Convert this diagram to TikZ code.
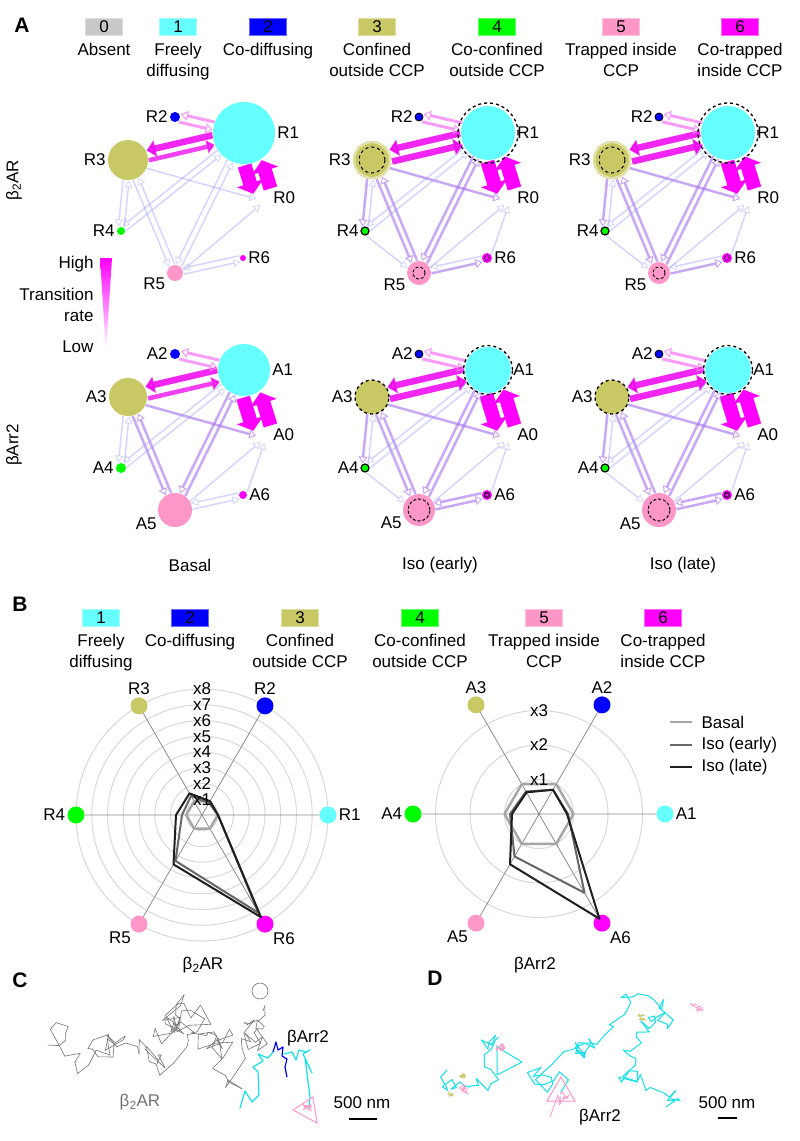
\documentclass[tikz,border=0pt]{standalone}
\usepackage{fontspec}
\setmainfont{Liberation Sans}
\usetikzlibrary{calc,arrows.meta}

\definecolor{stabs}{RGB}{200,200,200}
\definecolor{stfree}{RGB}{102,255,255}
\definecolor{stcod}{RGB}{0,0,255}
\definecolor{stconf}{RGB}{200,200,100}
\definecolor{stcoc}{RGB}{0,255,0}
\definecolor{sttrap}{RGB}{255,150,200}
\definecolor{stcot}{RGB}{255,0,255}
\definecolor{trmag}{RGB}{240,0,240}
\definecolor{trpur}{RGB}{165,110,240}
\definecolor{trblu}{RGB}{150,150,255}
\definecolor{trjcyan}{RGB}{20,225,235}

\pgfdeclarelayer{back}
\pgfdeclarelayer{edges}
\pgfsetlayers{back,edges,main}

\newcommand{\statenet}[9]{%
  \begin{scope}[shift={#3}]
    \node[st=#4, fill=stfree, label={[lab]right:#21}] (#11) at (244,133) {};
    \node[st=#5, fill=stcod, label={[lab]left:#22}] (#12) at (175,117) {};
    \node[st=#6, fill=stconf, label={[lab]left:#23}] (#13) at (128,160) {};
    \node[st=#7, fill=stcoc, label={[lab]left:#24}] (#14) at (121,231) {};
    \node[st=#8, fill=sttrap, label={[lab]200:#25}] (#15) at (175,273) {};
    \node[st=#9, fill=stcot, label={[lab]right:#26}] (#16) at (243,258) {};
    \node[st=7, label={[lab]right:#20}] (#10) at (264,198) {};
  \end{scope}}

\newcommand{\trarrow}[5]{%
  \path (#1#2) -- (#1#3) coordinate[pos=0] (ts) coordinate[pos=1] (te);
  \draw[#4] ($(ts)!#5pt!-90:(te)$) -- ($(te)!#5pt!90:(ts)$);}

\newcommand{\walkto}[4]{%
  \xdef\trjsx{\trjx}\xdef\trjsy{\trjy}%
  \foreach \i in {1,...,#1}{%
    \pgfmathsetmacro\trjtx{\trjsx+(#2-\trjsx)*\i/#1}%
    \pgfmathsetmacro\trjty{\trjsy+(#3-\trjsy)*\i/#1}%
    \pgfmathsetmacro\trjnx{\trjx+rand*#4+0.12*(\trjtx-\trjx)}%
    \pgfmathsetmacro\trjny{\trjy+rand*#4+0.12*(\trjty-\trjy)}%
    \draw (\trjx,\trjy) -- (\trjnx,\trjny);
    \xdef\trjx{\trjnx}\xdef\trjy{\trjny}%
  }}

\newcommand{\trjblob}[3]{%
  \xdef\trjx{#1}\xdef\trjy{#2}%
  \walkto{22}{#1}{#2}{#3}}

\def\edgesbasal{1/3/trA/5, 3/1/trB/5, 1/2/trC/4, 2/1/trC/4, 1/0/trR/9, 0/1/trR/9,
  3/4/trE/3, 4/3/trE/3, 3/5/trE/3, 5/3/trE/3, 1/5/trE/3, 5/1/trE/3, 3/0/trE/3,
  5/6/trE/3, 6/5/trE/3, 5/0/trE/3, 1/4/trE/3, 4/1/trE/3}
\def\edgesiso{1/3/trA/6, 3/1/trA/6, 1/2/trC/4, 2/1/trC/4, 1/0/trR/9, 0/1/trR/9,
  3/4/trD/3, 4/3/trE/3, 3/5/trD/3, 5/3/trD/3, 1/5/trD/3, 5/1/trD/3, 3/0/trD/3,
  5/6/trD/3, 6/5/trE/3, 5/0/trE/3, 1/4/trE/3, 4/1/trE/3, 6/0/trE/3, 4/5/trE/3}
\def\edgesarr{1/3/trA/6, 3/1/trB/6, 1/2/trC/4, 2/1/trC/4, 1/0/trR/9, 0/1/trR/9,
  3/4/trE/3, 4/3/trE/3, 3/5/trD/3, 5/3/trD/3, 1/5/trD/3, 5/1/trD/3, 3/0/trD/3,
  5/6/trE/3, 6/5/trE/3, 5/0/trE/3, 1/4/trE/3, 4/1/trE/3, 6/0/trE/3}
\def\edgesarriso{1/3/trA/6, 3/1/trA/6, 1/2/trC/4, 2/1/trC/4, 1/0/trR/9, 0/1/trR/9,
  3/4/trD/3, 4/3/trE/3, 3/5/trD/3, 5/3/trD/3, 1/5/trD/3, 5/1/trD/3, 3/0/trD/3,
  5/6/trD/3, 6/5/trD/3, 5/0/trE/3, 1/4/trE/3, 4/1/trE/3, 6/0/trE/3, 4/5/trE/3}

\begin{document}
\begin{tikzpicture}[x=1pt, y=-1pt, font=\fontsize{17}{21}\selectfont,
  st/.style={circle, inner sep=0pt, minimum size={2*#1}},
  lab/.style={inner sep=1pt},
  every label/.style={label distance=1pt},
  key/.style={minimum width=37pt, minimum height=17pt, inner sep=0pt},
  letter/.style={font=\fontsize{21}{24}\selectfont\bfseries},
  trA/.style={draw=trmag, opacity=.85, line width=6.5pt, -{Triangle[length=9pt, width=16pt]}},
  trB/.style={draw=trmag, opacity=.75, line width=4.5pt, -{Triangle[length=8pt, width=13pt]}},
  trC/.style={draw=trmag!45, opacity=.85, line width=3pt, -{Triangle[open, length=7pt, width=10pt, line width=1pt]}},
  trD/.style={draw=trpur, opacity=.6, line width=2.5pt, -{Triangle[open, length=7pt, width=9pt, line width=1pt]}},
  trE/.style={draw=trblu, opacity=.4, line width=1.5pt, -{Triangle[open, length=7pt, width=8pt, line width=.8pt]}},
  trR/.style={draw=stcot, line width=14pt, -{Triangle[length=11pt, width=27pt]}},
  dot/.style={circle, inner sep=0pt, minimum size=17pt},
  ring/.style={draw=black!15, line width=1pt},
  axis/.style={draw=black!45, line width=.8pt},
  basal/.style={draw=black!35, line width=2.5pt, line join=round},
  early/.style={draw=black!60, line width=2pt, line join=round},
  late/.style={draw=black!88, line width=2pt, line join=round}]

  \begin{pgfonlayer}{back}
    \fill[white] (0,0) rectangle (800,1141);
  \end{pgfonlayer}
  \useasboundingbox (0,0) rectangle (800,1141);

  \node[letter] (pa) at (22,25) {A};
  \node[letter] (pb) at (20,604) {B};
  \node[letter] (pc) at (20,980) {C};
  \node[letter] (pd) at (435,978) {D};

  \foreach \x/\n/\c in {104/0/stabs, 178/1/stfree, 268/2/stcod, 377/3/stconf,
      497/4/stcoc, 621/5/sttrap, 740/6/stcot}
    \node[key, fill=\c, draw=\c!60!white] (ka\n) at (\x,26.5) {\n};
  \foreach \x/\kt in {104/Absent, 178/Freely\\diffusing, 268/Co-diffusing,
      377/Confined\\outside CCP, 497/Co-confined\\outside CCP,
      621/Trapped inside\\CCP, 740/Co-trapped\\inside CCP}
    \node[align=center, anchor=north, inner sep=0pt] (kl\x) at (\x,43) {\kt};

  \foreach \x/\n/\c in {101/1/stfree, 190/2/stcod, 300/3/stconf, 420/4/stcoc,
      544/5/sttrap, 663/6/stcot}
    \node[key, fill=\c, draw=\c!60!white] (kb\n) at (\x,617.5) {\n};
  \foreach \x/\kt in {101/Freely\\diffusing, 190/Co-diffusing,
      300/Confined\\outside CCP, 420/Co-confined\\outside CCP,
      544/Trapped inside\\CCP, 663/Co-trapped\\inside CCP}
    \node[align=center, anchor=north, inner sep=0pt] (km\x) at (\x,634) {\kt};

  \node[rotate=90] (rowr) at (14,180) {β\textsubscript{2}AR};
  \node[rotate=90] (rowa) at (14,445) {βArr2};

  \shade[top color=stcot, bottom color=white] (100,258) -- (112,258) -- (106,352) -- cycle;
  \node[anchor=east] (high) at (97,264) {High};
  \node[anchor=east, align=right] (trate) at (97,305) {Transition\\rate};
  \node[anchor=east] (low) at (97,347) {Low};

  \statenet{a}{R}{(0,0)}{31}{5}{20}{4}{8}{3}
  \statenet{b}{R}{(244,0)}{27}{4}{19}{4}{12}{5}
  \statenet{c}{R}{(484,0)}{27}{4}{19}{4}{11}{5}
  \statenet{d}{A}{(0,237)}{26}{5}{19}{5}{17}{4}
  \statenet{e}{A}{(244,237)}{23}{4}{17}{4}{16}{5}
  \statenet{f}{A}{(484,237)}{23}{4}{17}{4}{17}{5}

  \foreach \pn in {b,c} {
    \draw[dashed, line width=1.3pt] (\pn1) circle (30pt);
    \draw[line width=.8pt] (\pn2) circle (4pt);
    \draw[stconf!55, line width=2.5pt] (\pn3) circle (18pt);
    \draw[dashed, line width=1pt] (\pn3) circle (13pt);
    \draw[line width=1.2pt] (\pn4) circle (4pt);
    \draw[densely dashed, line width=.9pt] (\pn5) circle (6pt);
    \draw[densely dotted, line width=.9pt] (\pn6) circle (2.5pt);
  }
  \foreach \pn in {e,f} {
    \draw[dashed, line width=1.3pt] (\pn1) circle (24.5pt);
    \draw[line width=.8pt] (\pn2) circle (4pt);
    \draw[dashed, line width=1.3pt] (\pn3) circle (17pt);
    \draw[line width=1.2pt] (\pn4) circle (4pt);
    \draw[densely dashed, line width=1pt] (\pn5) circle (11pt);
    \draw[line width=1.1pt] (\pn6) circle (2.5pt);
  }

  \begin{pgfonlayer}{edges}
    \foreach \ea/\eb/\es/\eg in \edgesbasal {\trarrow{a}{\ea}{\eb}{\es}{\eg}}
    \foreach \ea/\eb/\es/\eg in \edgesiso {\trarrow{b}{\ea}{\eb}{\es}{\eg}}
    \foreach \ea/\eb/\es/\eg in \edgesiso {\trarrow{c}{\ea}{\eb}{\es}{\eg}}
    \foreach \ea/\eb/\es/\eg in \edgesarr {\trarrow{d}{\ea}{\eb}{\es}{\eg}}
    \foreach \ea/\eb/\es/\eg in \edgesarriso {\trarrow{e}{\ea}{\eb}{\es}{\eg}}
    \foreach \ea/\eb/\es/\eg in \edgesarriso {\trarrow{f}{\ea}{\eb}{\es}{\eg}}
  \end{pgfonlayer}

  \node (cola) at (190,565) {Basal};
  \node (colb) at (440,565) {Iso (early)};
  \node (colc) at (683,565) {Iso (late)};

  % radar of the receptor
  \begin{scope}[shift={(202,815)}, yscale=-1]
    \foreach \k in {1,...,8} \draw[ring] (0,0) circle[radius={15.75*\k}];
    \foreach \a/\n/\c/\p in {0/1/stfree/0, 60/2/stcod/90, 120/3/stconf/90,
        180/4/stcoc/180, 240/5/sttrap/225, 300/6/stcot/315}
      \node[dot, fill=\c, label={[lab]\p:R\n}] (q\n) at (\a:126) {};
    \draw[axis] (q1) -- (q4) (q2) -- (q5) (q3) -- (q6);
    \draw[basal] (0:15.75) \foreach \a in {60,120,...,300} {-- (\a:15.75)} -- cycle;
    \draw[early] (0:16) -- (60:14) -- (120:22) -- (180:20) -- (240:53) -- (300:113) -- cycle;
    \draw[late] (0:16) -- (60:16) -- (120:25) -- (180:26) -- (240:57) -- (300:118) -- cycle;
    \foreach \k in {1,...,8} \node[inner sep=0pt] (tq\k) at (90:{15.75*\k}) {x\k};
  \end{scope}
  \node (namq) at (203,965) {β\textsubscript{2}AR};

  % radar of the arrestin
  \begin{scope}[shift={(539,814)}, yscale=-1]
    \foreach \k in {1,2,3} \draw[ring] (0,0) circle[radius={34.5*\k}];
    \foreach \a/\n/\c/\p in {0/1/stfree/0, 60/2/stcod/90, 120/3/stconf/90,
        180/4/stcoc/180, 240/5/sttrap/225, 300/6/stcot/315}
      \node[dot, fill=\c, label={[lab]\p:A\n}] (s\n) at (\a:126) {};
    \draw[axis] (s1) -- (s4) (s2) -- (s5) (s3) -- (s6);
    \draw[basal] (0:34.5) \foreach \a in {60,120,...,300} {-- (\a:34.5)} -- cycle;
    \draw[early] (0:29) -- (60:28) -- (120:26) -- (180:29) -- (240:49) -- (300:91) -- cycle;
    \draw[late] (0:28) -- (60:28) -- (120:25) -- (180:27) -- (240:58) -- (300:121) -- cycle;
    \foreach \k in {1,2,3} \node[inner sep=0pt] (ts\k) at (90:{34.5*\k}) {x\k};
  \end{scope}
  \node (nams) at (535,965) {βArr2};

  \draw[basal] (670,722) -- (692,722);
  \draw[early] (670,745) -- (692,745);
  \draw[late] (670,767) -- (692,767);
  \node[anchor=west] (lgb) at (698,722) {Basal};
  \node[anchor=west] (lge) at (698,745) {Iso (early)};
  \node[anchor=west] (lgl) at (698,767) {Iso (late)};

  % single trajectories
  \begin{scope}[black!55, line width=.6pt, line cap=round, line join=round]
    \pgfmathsetseed{11}
    \xdef\trjx{48}\xdef\trjy{1045}
    \walkto{35}{110}{1035}{17}
    \walkto{35}{175}{1035}{17}
    \walkto{35}{235}{1040}{17}
    \walkto{20}{280}{1005}{14}
    \walkto{10}{262}{992}{8}
    \draw (260,991) circle (8pt);
  \end{scope}
  \begin{scope}[trjcyan, line width=1.2pt, line cap=round, line join=round]
    \draw (240,1108) -- (245,1091) -- (252,1102) -- (259,1095) -- (258,1072) -- (253,1067)
      -- (263,1061) -- (258,1054) -- (268,1058) -- (273,1052);
    \draw (284,1054) -- (292,1052) -- (296,1060) -- (299,1050) -- (306,1052) -- (310,1050)
      -- (303,1054) -- (312,1073) -- (305,1058) -- (310,1097) -- (309,1108);
  \end{scope}
  \draw[stcod, line width=1.2pt, line join=round] (273,1052) -- (276,1042) -- (278,1050)
    -- (283,1047) -- (282,1056) -- (287,1059) -- (285,1067) -- (287,1077);
  \draw[sttrap, line width=1pt] (293,1110) -- (313,1097) -- (317,1123) -- cycle;
  \begin{scope}[sttrap, line width=.8pt]
    \pgfmathsetseed{5}
    \trjblob{308}{1110}{3}
  \end{scope}
  \node[black!55] (trr) at (140,1102) {β\textsubscript{2}AR};
  \node (tra) at (308,1038) {βArr2};
  \node (sbc) at (362,1103) {500 nm};
  \draw[line width=2pt] (349,1119) -- (377,1119);

  \begin{scope}[trjcyan, line width=1pt, line cap=round, line join=round]
    \pgfmathsetseed{29}
    \xdef\trjx{447}\xdef\trjy{1070}
    \walkto{10}{468}{1095}{8}
    \walkto{6}{483}{1077}{8}
    \walkto{8}{483}{1028}{9}
    \walkto{8}{506}{1038}{9}
    \draw (497,1047) -- (522,1062) -- (497,1075) -- cycle;
    \pgfmathsetseed{31}
    \xdef\trjx{561}\xdef\trjy{1092}
    \walkto{8}{550}{1050}{13}
    \walkto{8}{565}{1015}{13}
    \walkto{12}{605}{995}{14}
    \walkto{12}{645}{1015}{13}
    \walkto{8}{698}{1005}{10}
    \walkto{8}{660}{1030}{10}
    \walkto{12}{625}{1070}{13}
    \walkto{14}{675}{1100}{14}
    \walkto{8}{665}{1120}{10}
  \end{scope}
  \draw[sttrap, line width=1pt] (547,1101) -- (575,1101) -- (561,1077) -- cycle;
  \begin{scope}[sttrap, line width=.8pt]
    \pgfmathsetseed{7}
    \trjblob{561}{1093}{4}
    \trjblob{500}{1047}{3}
    \trjblob{467}{1093}{3}
    \trjblob{697}{1005}{3}
    \draw (558,1095) -- (550,1117);
  \end{scope}
  \begin{scope}[stconf, line width=.8pt]
    \pgfmathsetseed{9}
    \trjblob{645}{1016}{2.5}
    \trjblob{463}{1075}{2}
    \trjblob{451}{1095}{1.5}
  \end{scope}
  \node (trd) at (600,1117) {βArr2};
  \node (sbd) at (727,1103) {500 nm};
  \draw[line width=2pt] (718,1118) -- (737,1118);
\end{tikzpicture}
\end{document}
